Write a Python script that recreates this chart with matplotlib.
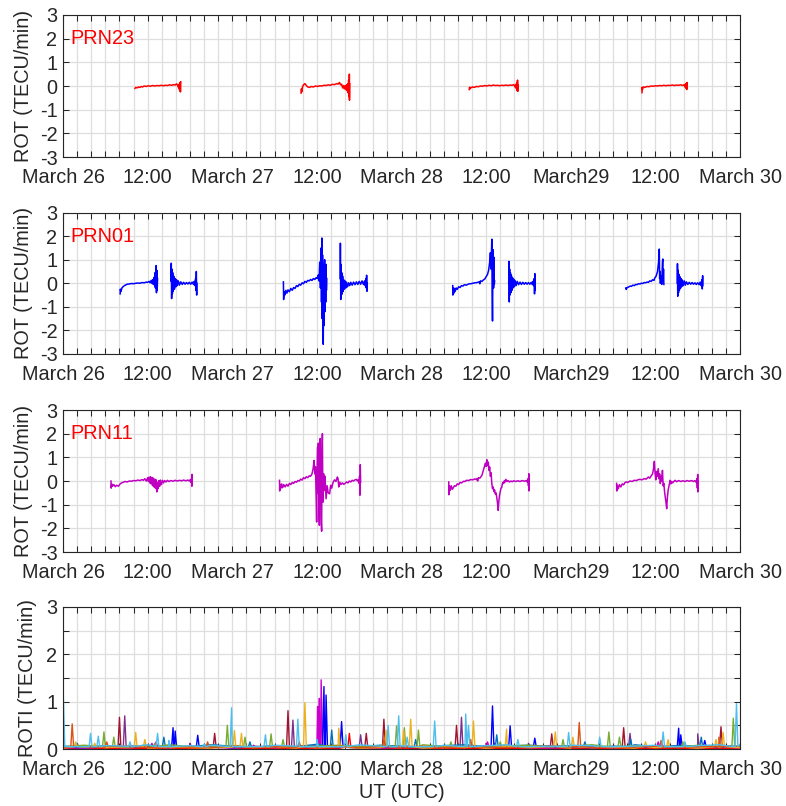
import numpy as np
import matplotlib
matplotlib.use("Agg")
import matplotlib.pyplot as plt
from matplotlib.ticker import MultipleLocator, NullLocator

plt.rcParams['font.family'] = ['Liberation Sans', 'DejaVu Sans']
plt.rcParams['axes.unicode_minus'] = False

# hours since March 26 00:00 UT
xtick_hours = [0, 12, 24, 36, 48, 60, 72, 84, 96]
xtick_labels = ['March 26', '12:00', 'March 27', '12:00', 'March 28',
                '12:00', 'March29', '12:00', 'March 30']

# ---- ROT, PRN23 (t [h], ROT [TECU/min]) ----
prn23_day1 = [(10.2, -0.10), (10.3, -0.06), (10.5, -0.08), (10.7, -0.04), (10.9, -0.06),
              (11.1, -0.02), (11.3, -0.04), (11.5, 0.00), (11.8, -0.02), (12.1, 0.01),
              (12.4, -0.01), (12.7, 0.02), (13.0, 0.00), (13.3, 0.02), (13.6, 0.01),
              (13.9, 0.03), (14.2, 0.01), (14.5, 0.03), (14.8, 0.02), (15.1, 0.05),
              (15.4, 0.03), (15.7, 0.06), (15.9, 0.04), (16.1, 0.09), (16.2, 0.05),
              (16.3, 0.02), (16.35, -0.05), (16.4, 0.04), (16.45, -0.12), (16.5, 0.08),
              (16.55, -0.20), (16.6, 0.15), (16.65, -0.25), (16.7, 0.18)]
prn23_day2 = [(33.75, -0.30), (33.8, -0.12), (33.85, -0.25), (33.95, -0.05), (34.1, 0.05),
              (34.3, 0.10), (34.5, 0.02), (34.7, -0.04), (34.95, -0.06), (35.2, -0.02),
              (35.5, -0.04), (35.8, 0.00), (36.1, -0.02), (36.4, 0.01), (36.7, 0.00),
              (37.0, 0.03), (37.3, 0.02), (37.6, 0.05), (37.9, 0.03), (38.2, 0.07),
              (38.5, 0.06), (38.8, 0.10), (39.0, 0.08), (39.2, 0.15), (39.35, 0.05),
              (39.5, 0.08), (39.65, -0.08), (39.8, 0.02), (39.9, -0.12), (40.0, 0.0),
              (40.1, -0.15), (40.2, 0.05), (40.3, -0.2), (40.4, 0.1), (40.45, -0.3),
              (40.5, 0.25), (40.55, -0.45), (40.6, 0.5), (40.62, -0.6), (40.65, 0.1)]
prn23_day3 = [(57.6, -0.15), (57.65, -0.05), (57.7, -0.12), (57.9, -0.06), (58.1, -0.04),
              (58.3, -0.06), (58.6, -0.02), (58.9, -0.03), (59.2, 0.0), (59.5, -0.01),
              (59.8, 0.02), (60.1, 0.0), (60.4, 0.03), (60.7, 0.01), (61.0, 0.04),
              (61.3, 0.02), (61.6, 0.03), (61.9, 0.01), (62.2, 0.03), (62.5, 0.02),
              (62.8, 0.04), (63.1, 0.02), (63.4, 0.04), (63.7, 0.03), (63.9, 0.06),
              (64.05, 0.0), (64.15, -0.06), (64.25, 0.08), (64.3, -0.12), (64.35, 0.15),
              (64.4, -0.2), (64.45, 0.25), (64.5, -0.22), (64.52, 0.05)]
prn23_day4 = [(82.1, -0.28), (82.12, -0.05), (82.15, -0.15), (82.3, -0.04), (82.5, -0.06),
              (82.8, -0.02), (83.1, -0.03), (83.4, 0.0), (83.7, -0.01), (84.0, 0.01),
              (84.3, 0.0), (84.6, 0.02), (84.9, 0.01), (85.2, 0.03), (85.5, 0.01),
              (85.8, 0.03), (86.1, 0.02), (86.4, 0.04), (86.7, 0.02), (87.0, 0.04),
              (87.3, 0.03), (87.6, 0.05), (87.9, 0.02), (88.1, 0.06), (88.2, -0.05),
              (88.3, 0.08), (88.35, -0.1), (88.4, 0.12), (88.45, -0.15), (88.5, 0.15),
              (88.52, -0.05)]

# ---- ROT, PRN01 ----
prn01_day1a = [(8.1, -0.45), (8.12, -0.25), (8.2, -0.35), (8.35, -0.2), (8.5, -0.15),
               (8.7, -0.1), (8.9, -0.07), (9.1, -0.04), (9.4, -0.03), (9.7, -0.01),
               (10.0, -0.02), (10.3, 0.0), (10.6, 0.01), (10.9, 0.0), (11.2, 0.03),
               (11.5, 0.02), (11.8, 0.05), (12.0, 0.04), (12.2, 0.08), (12.35, 0.02),
               (12.5, 0.12), (12.6, 0.0), (12.7, 0.15), (12.8, -0.05), (12.9, 0.25),
               (13.0, -0.1), (13.05, 0.45), (13.1, -0.2), (13.2, 0.75), (13.25, -0.4),
               (13.3, 0.55), (13.35, -0.3), (13.4, 0.2)]
prn01_day1b = [(15.3, 0.1), (15.35, 0.85), (15.4, -0.65), (15.45, 0.6), (15.5, -0.45),
               (15.55, 0.45), (15.6, -0.35), (15.7, 0.3), (15.8, -0.25), (15.9, 0.2),
               (16.0, -0.15), (16.1, 0.15), (16.2, -0.1), (16.35, 0.1), (16.5, -0.08),
               (16.7, 0.06), (16.9, -0.05), (17.1, 0.04), (17.3, -0.04), (17.5, 0.03),
               (17.7, -0.03), (17.9, 0.04), (18.1, -0.04), (18.3, 0.05), (18.5, -0.05),
               (18.6, 0.08), (18.7, -0.1), (18.8, 0.2), (18.85, -0.3), (18.9, 0.5),
               (18.95, -0.5), (18.97, 0.0)]
prn01_day2a = [(31.25, 0.06), (31.28, -0.69), (31.35, -0.35), (31.45, -0.5), (31.6, -0.3),
               (31.75, -0.42), (31.9, -0.28), (32.1, -0.36), (32.3, -0.22), (32.5, -0.3),
               (32.7, -0.18), (32.9, -0.22), (33.1, -0.1), (33.3, -0.14), (33.5, -0.04),
               (33.7, -0.08), (33.9, 0.02), (34.1, -0.02), (34.3, 0.08), (34.5, 0.04),
               (34.7, 0.12), (34.9, 0.1), (35.1, 0.16), (35.3, 0.12), (35.5, 0.2),
               (35.7, 0.16), (35.9, 0.24), (36.05, 0.2), (36.2, 0.35), (36.3, 0.1),
               (36.4, 0.9), (36.5, -0.2), (36.6, 1.5), (36.65, -0.8), (36.7, 1.92),
               (36.75, -1.5), (36.8, 1.2), (36.85, -2.2), (36.9, -2.59), (36.95, 0.4),
               (37.0, -1.8), (37.05, 0.6), (37.1, 1.0), (37.15, -1.2), (37.2, 0.5),
               (37.25, -0.8), (37.3, 0.8), (37.35, -0.3), (37.4, 0.2)]
prn01_day2b = [(39.3, 0.2), (39.33, 1.7), (39.38, -0.69), (39.42, 0.8), (39.47, -0.5),
               (39.52, 0.45), (39.58, -0.45), (39.65, 0.3), (39.72, -0.35), (39.8, 0.15),
               (39.9, -0.25), (40.0, 0.1), (40.1, -0.2), (40.2, 0.05), (40.35, -0.15),
               (40.5, 0.02), (40.65, -0.1), (40.8, 0.04), (41.0, -0.08), (41.2, 0.05),
               (41.4, -0.06), (41.6, 0.06), (41.8, -0.05), (42.0, 0.08), (42.2, -0.04),
               (42.4, 0.1), (42.6, -0.05), (42.75, 0.1), (42.85, -0.1), (42.95, 0.2),
               (43.0, -0.2), (43.05, 0.34), (43.1, -0.34), (43.12, 0.0)]
prn01_day3a = [(55.26, -0.1), (55.28, -0.5), (55.35, -0.2), (55.42, -0.42), (55.5, -0.22),
               (55.6, -0.35), (55.75, -0.2), (55.9, -0.26), (56.1, -0.15), (56.3, -0.18),
               (56.5, -0.1), (56.7, -0.12), (56.9, -0.06), (57.2, -0.08), (57.5, -0.03),
               (57.8, -0.02), (58.1, 0.0), (58.4, 0.02), (58.7, 0.03), (59.0, 0.06),
               (59.1, -0.02), (59.2, 0.1), (59.4, 0.08), (59.6, 0.14), (59.8, 0.18),
               (60.0, 0.28), (60.2, 0.38), (60.35, 0.55), (60.5, 0.9), (60.6, 1.3),
               (60.7, 0.6), (60.8, 1.87), (60.85, -0.3), (60.9, -1.6), (60.95, 0.5),
               (61.0, 1.42), (61.05, -0.2), (61.1, 1.1), (61.15, -0.05), (61.2, 0.1)]
prn01_day3b = [(63.2, 0.0), (63.23, 0.93), (63.28, -0.79), (63.33, 0.6), (63.38, -0.5),
               (63.44, 0.45), (63.5, -0.4), (63.57, 0.35), (63.65, -0.3), (63.72, 0.25),
               (63.8, -0.2), (63.9, 0.18), (64.0, -0.15), (64.1, 0.12), (64.25, -0.1),
               (64.4, 0.08), (64.6, -0.06), (64.8, 0.05), (65.0, -0.05), (65.2, 0.04),
               (65.4, -0.04), (65.6, 0.03), (65.8, -0.04), (66.0, 0.03), (66.2, -0.04),
               (66.4, 0.04), (66.55, -0.06), (66.65, 0.08), (66.75, -0.1), (66.82, 0.2),
               (66.86, -0.45), (66.9, 0.41), (66.92, -0.3)]
prn01_day4a = [(79.8, -0.2), (79.85, -0.26), (80.0, -0.18), (80.2, -0.16), (80.4, -0.12),
               (80.6, -0.13), (80.8, -0.08), (81.0, -0.1), (81.2, -0.05), (81.4, -0.06),
               (81.6, -0.02), (81.8, -0.03), (82.0, 0.0), (82.2, -0.01), (82.4, 0.03),
               (82.6, 0.02), (82.8, 0.05), (83.0, 0.04), (83.2, 0.1), (83.4, 0.08),
               (83.6, 0.15), (83.8, 0.12), (83.9, 0.22), (84.1, 0.3), (84.3, 0.5),
               (84.45, 0.9), (84.55, 1.45), (84.6, 0.2), (84.65, 0.5), (84.7, 0.0),
               (84.8, 0.3), (84.9, -0.05), (85.0, 0.9), (85.05, 1.03), (85.1, 0.1),
               (85.15, 0.6), (85.2, -0.05)]
prn01_day4b = [(87.1, 0.0), (87.13, 0.83), (87.17, -0.55), (87.22, 0.55), (87.28, -0.4),
               (87.34, 0.38), (87.4, -0.3), (87.47, 0.28), (87.55, -0.22), (87.63, 0.2),
               (87.72, -0.15), (87.82, 0.14), (87.95, -0.1), (88.1, 0.1), (88.25, -0.08),
               (88.4, 0.06), (88.6, -0.05), (88.8, 0.04), (89.0, -0.04), (89.2, 0.03),
               (89.4, -0.04), (89.6, 0.02), (89.8, -0.05), (90.0, 0.02), (90.2, -0.06),
               (90.35, 0.05), (90.5, -0.1), (90.6, 0.15), (90.65, -0.24), (90.7, 0.32),
               (90.72, -0.1)]

# ---- ROT, PRN11 ----
prn11_day1 = [(6.8, 0.0), (6.83, -0.3), (6.9, -0.12), (7.0, -0.22), (7.2, -0.15),
              (7.4, -0.24), (7.6, -0.18), (7.85, -0.22), (8.1, -0.12), (8.3, -0.08),
              (8.55, -0.05), (8.8, -0.02), (9.1, -0.04), (9.4, 0.0), (9.7, -0.01),
              (10.0, 0.02), (10.3, 0.01), (10.6, 0.04), (10.9, 0.02), (11.2, 0.06),
              (11.4, 0.03), (11.6, 0.1), (11.8, 0.0), (12.0, 0.14), (12.1, -0.02),
              (12.2, 0.16), (12.3, -0.08), (12.4, 0.18), (12.5, -0.12), (12.6, 0.15),
              (12.7, -0.2), (12.8, 0.12), (12.9, -0.25), (13.0, 0.08), (13.1, -0.3),
              (13.2, 0.05), (13.3, -0.46), (13.4, -0.05), (13.5, -0.32), (13.6, 0.02),
              (13.7, -0.22), (13.8, 0.04), (13.95, -0.15), (14.1, 0.03), (14.25, -0.08),
              (14.4, 0.02), (14.6, -0.04), (14.8, 0.03), (15.0, -0.02), (15.3, 0.02),
              (15.6, -0.01), (15.9, 0.03), (16.2, 0.0), (16.5, 0.03), (16.8, 0.01),
              (17.1, 0.04), (17.4, 0.01), (17.7, 0.04), (17.9, 0.0), (18.05, 0.06),
              (18.15, -0.06), (18.22, 0.1), (18.27, -0.22), (18.3, 0.28), (18.32, -0.1)]
prn11_day2 = [(30.7, 0.03), (30.72, -0.42), (30.8, -0.15), (30.9, -0.3), (31.0, -0.12),
              (31.15, -0.28), (31.3, -0.15), (31.5, -0.25), (31.7, -0.14), (31.9, -0.22),
              (32.1, -0.1), (32.3, -0.15), (32.5, -0.06), (32.7, -0.1), (32.9, -0.02),
              (33.1, -0.05), (33.3, 0.02), (33.5, 0.0), (33.7, 0.08), (33.9, 0.04),
              (34.1, 0.14), (34.3, 0.1), (34.5, 0.18), (34.7, 0.14), (34.9, 0.22),
              (35.1, 0.2), (35.3, 0.3), (35.45, 0.5), (35.6, 0.87), (35.7, 0.3),
              (35.8, 0.6), (35.9, -0.8), (35.96, -1.73), (36.02, 0.4), (36.1, 1.43),
              (36.15, -0.5), (36.2, 1.6), (36.28, -1.2), (36.35, -1.87), (36.4, 1.0),
              (36.45, 1.79), (36.5, -1.0), (36.55, 0.9), (36.6, -1.6), (36.67, -2.12),
              (36.72, 1.2), (36.78, 2.0), (36.82, 0.2), (36.88, -0.89), (36.95, 0.31),
              (37.05, -0.4), (37.15, 0.2), (37.3, -0.75), (37.45, -0.2), (37.6, -0.5),
              (37.8, -0.54), (37.95, -0.18), (38.1, -0.3), (38.3, -0.05), (38.5, 0.05),
              (38.7, -0.02), (38.9, 0.17), (39.0, 0.1), (39.1, -0.25), (39.25, -0.05),
              (39.4, -0.15), (39.6, -0.08), (39.8, -0.14), (40.0, -0.1), (40.2, -0.04),
              (40.4, -0.08), (40.6, 0.0), (40.8, -0.04), (41.0, 0.03), (41.2, 0.0),
              (41.4, 0.05), (41.6, 0.07), (41.75, 0.0), (41.9, 0.06), (42.0, -0.1),
              (42.05, 0.2), (42.1, -0.6), (42.15, 0.69), (42.2, -0.05)]
prn11_day3 = [(54.7, -0.04), (54.72, -0.58), (54.8, -0.2), (54.9, -0.4), (55.05, -0.2),
              (55.2, -0.35), (55.35, -0.28), (55.5, -0.2), (55.7, -0.22), (55.9, -0.12),
              (56.1, -0.15), (56.3, -0.06), (56.5, -0.08), (56.8, -0.01), (57.0, -0.02),
              (57.2, 0.03), (57.5, 0.02), (57.8, 0.06), (58.1, 0.05), (58.4, 0.09),
              (58.6, 0.06), (58.7, 0.1), (58.8, 0.0), (58.9, 0.14), (59.1, 0.12),
              (59.3, 0.2), (59.4, 0.24), (59.55, 0.4), (59.7, 0.55), (59.8, 0.66),
              (59.9, 0.75), (60.0, 0.62), (60.1, 0.9), (60.2, 0.65), (60.3, 0.8),
              (60.4, 0.45), (60.5, 0.59), (60.6, 0.2), (60.7, 0.35), (60.8, -0.1),
              (60.9, -0.32), (61.0, -0.25), (61.1, -0.45), (61.2, -0.38), (61.3, -0.55),
              (61.4, -0.5), (61.5, -0.68), (61.6, -0.9), (61.7, -1.24), (61.8, -0.85),
              (61.9, -0.6), (62.0, -0.45), (62.1, -0.3), (62.2, -0.28), (62.3, -0.12),
              (62.4, -0.05), (62.5, -0.1), (62.6, 0.02), (62.7, -0.04), (62.8, 0.07),
              (62.95, -0.02), (63.1, 0.02), (63.3, -0.04), (63.5, 0.0), (63.7, -0.03),
              (63.9, 0.01), (64.2, -0.02), (64.5, 0.01), (64.8, -0.02), (65.1, 0.02),
              (65.4, -0.01), (65.7, 0.02), (65.85, -0.05), (65.95, 0.1), (66.0, -0.2),
              (66.05, 0.31), (66.08, -0.42), (66.1, 0.0)]
prn11_day4 = [(78.5, -0.1), (78.52, -0.42), (78.6, -0.18), (78.75, -0.32), (78.9, -0.15),
              (79.1, -0.25), (79.3, -0.12), (79.5, -0.16), (79.7, -0.06), (79.9, -0.04),
              (80.1, -0.06), (80.4, 0.0), (80.7, -0.02), (81.0, 0.03), (81.3, 0.02),
              (81.6, 0.06), (81.8, 0.07), (82.1, 0.05), (82.4, 0.1), (82.7, 0.08),
              (83.0, 0.17), (83.2, 0.12), (83.4, 0.22), (83.6, 0.3), (83.75, 0.55),
              (83.85, 0.83), (83.95, 0.35), (84.05, 0.05), (84.15, 0.4), (84.25, 0.2),
              (84.4, 0.52), (84.5, 0.1), (84.6, 0.3), (84.7, -0.11), (84.8, 0.2),
              (84.9, 0.0), (85.0, 0.45), (85.1, -0.2), (85.2, -0.1), (85.3, -0.45),
              (85.4, -0.68), (85.5, -0.9), (85.6, -1.17), (85.7, -0.7), (85.8, -0.4),
              (85.9, -0.25), (86.0, -0.1), (86.1, 0.03), (86.2, -0.12), (86.3, -0.02),
              (86.45, -0.08), (86.6, -0.02), (86.8, 0.03), (87.0, -0.03), (87.3, 0.02),
              (87.6, -0.02), (87.9, 0.01), (88.2, -0.02), (88.5, 0.02), (88.8, -0.01),
              (89.1, 0.02), (89.4, -0.02), (89.6, 0.02), (89.8, -0.06), (89.9, 0.1),
              (89.95, -0.3), (90.0, 0.28), (90.02, -0.46), (90.05, 0.0)]

# ---- ROTI, all satellites: quiet level sampled every 3 h + spikes (t, ROTI) ----
# drawing order: dark red / pure red / magenta / blue first, rest of palette on top
roti_colors = ['#A2142F', '#FF0000', '#CC00CC', '#0000FF', '#7E2F8E', '#0072BD',
               '#77AC30', '#EDB120', '#D95319', '#4DBEEE']
roti_base = [
    [0.03, 0.04, 0.02, 0.05, 0.03, 0.04, 0.02, 0.03, 0.05, 0.03, 0.02, 0.04, 0.03, 0.05, 0.02, 0.04, 0.03,
     0.02, 0.04, 0.03, 0.05, 0.02, 0.03, 0.04, 0.02, 0.03, 0.05, 0.03, 0.02, 0.04, 0.03, 0.05, 0.03],
    [0.01, 0.02, 0.01, 0.02, 0.01, 0.02, 0.01, 0.02, 0.02, 0.01, 0.02, 0.01, 0.02, 0.01, 0.02, 0.01, 0.02,
     0.01, 0.02, 0.01, 0.02, 0.01, 0.02, 0.01, 0.02, 0.01, 0.02, 0.01, 0.02, 0.01, 0.02, 0.01, 0.02],
    [0.03, 0.02, 0.04, 0.03, 0.05, 0.06, 0.04, 0.03, 0.02, 0.04, 0.03, 0.05, 0.07, 0.04, 0.03, 0.02, 0.04,
     0.03, 0.05, 0.06, 0.04, 0.06, 0.03, 0.02, 0.04, 0.03, 0.05, 0.04, 0.06, 0.05, 0.03, 0.04, 0.03],
    [0.04, 0.03, 0.05, 0.04, 0.06, 0.03, 0.04, 0.05, 0.03, 0.04, 0.06, 0.04, 0.05, 0.03, 0.04, 0.05, 0.04,
     0.03, 0.05, 0.04, 0.06, 0.04, 0.03, 0.05, 0.04, 0.03, 0.05, 0.04, 0.06, 0.03, 0.04, 0.05, 0.04],
    [0.04, 0.06, 0.03, 0.05, 0.07, 0.04, 0.06, 0.05, 0.03, 0.06, 0.04, 0.05, 0.07, 0.04, 0.03, 0.05, 0.06,
     0.04, 0.05, 0.03, 0.06, 0.04, 0.05, 0.07, 0.04, 0.06, 0.03, 0.05, 0.04, 0.06, 0.05, 0.03, 0.05],
    [0.06, 0.04, 0.07, 0.05, 0.08, 0.06, 0.05, 0.09, 0.06, 0.04, 0.07, 0.05, 0.10, 0.06, 0.05, 0.08, 0.06,
     0.04, 0.07, 0.09, 0.05, 0.06, 0.08, 0.05, 0.07, 0.04, 0.06, 0.09, 0.05, 0.07, 0.06, 0.08, 0.05],
    [0.05, 0.08, 0.06, 0.04, 0.07, 0.09, 0.05, 0.06, 0.08, 0.05, 0.07, 0.04, 0.06, 0.08, 0.05, 0.07, 0.06,
     0.09, 0.05, 0.06, 0.04, 0.07, 0.08, 0.05, 0.06, 0.09, 0.05, 0.07, 0.06, 0.04, 0.08, 0.06, 0.07],
    [0.02, 0.04, 0.03, 0.05, 0.02, 0.04, 0.03, 0.02, 0.04, 0.03, 0.05, 0.02, 0.03, 0.04, 0.02, 0.03, 0.05,
     0.02, 0.04, 0.03, 0.02, 0.04, 0.03, 0.05, 0.02, 0.03, 0.04, 0.02, 0.03, 0.05, 0.02, 0.04, 0.03],
    [0.03, 0.05, 0.04, 0.06, 0.03, 0.05, 0.04, 0.03, 0.06, 0.04, 0.05, 0.03, 0.04, 0.06, 0.03, 0.05, 0.04,
     0.06, 0.03, 0.05, 0.04, 0.03, 0.05, 0.06, 0.04, 0.03, 0.05, 0.04, 0.06, 0.03, 0.05, 0.04, 0.06],
    [0.08, 0.05, 0.07, 0.06, 0.09, 0.05, 0.07, 0.08, 0.06, 0.05, 0.08, 0.06, 0.07, 0.05, 0.09, 0.06, 0.07,
     0.05, 0.08, 0.06, 0.07, 0.09, 0.05, 0.06, 0.08, 0.07, 0.05, 0.06, 0.08, 0.05, 0.07, 0.09, 0.10],
]
roti_spikes = [
    [(8.0, 0.67), (21.5, 0.33), (31.9, 0.81), (43.0, 0.33), (45.5, 0.63), (55.8, 0.5),
     (60.0, 0.12), (69.3, 0.32), (79.5, 0.45), (93.3, 0.47)],
    [(22.0, 0.08), (40.6, 0.33)],
    [(12.6, 0.12), (13.2, 0.15), (27.0, 0.08), (36.1, 0.9), (36.35, 1.07), (36.6, 1.46),
     (60.2, 0.15), (61.2, 0.12), (84.4, 0.15), (84.9, 0.12)],
    [(15.6, 0.45), (15.9, 0.38), (19.1, 0.29), (37.0, 1.32), (37.3, 1.14), (39.5, 0.58),
     (60.9, 0.91), (63.4, 0.49), (66.9, 0.23), (87.3, 0.44), (87.6, 0.3), (91.0, 0.18)],
    [(8.75, 0.70), (18.0, 0.12), (32.6, 0.61), (42.2, 0.3), (56.5, 0.67), (66.0, 0.12),
     (80.4, 0.33), (90.0, 0.32)],
    [(2.0, 0.12), (14.3, 0.25), (26.5, 0.15), (38.1, 0.4), (50.0, 0.2), (61.5, 0.3),
     (74.0, 0.15), (80.5, 0.2), (90.5, 0.25)],
    [(5.8, 0.36), (7.2, 0.25), (13.0, 0.12), (23.3, 0.5), (25.8, 0.25), (29.5, 0.32),
     (31.2, 0.2), (47.3, 0.49), (48.4, 0.45), (50.4, 0.4), (55.0, 0.15), (62.0, 0.15),
     (70.9, 0.2), (77.4, 0.36), (78.9, 0.25), (87.9, 0.15), (95.05, 0.65)],
    [(1.8, 0.15), (4.5, 0.12), (10.3, 0.35), (11.6, 0.2), (24.3, 0.39), (25.3, 0.33),
     (34.3, 0.98), (39.1, 0.44), (45.8, 0.4), (48.3, 0.4), (49.3, 0.63), (58.2, 0.59),
     (62.9, 0.42), (69.8, 0.36), (72.3, 0.25), (82.6, 0.15), (85.8, 0.2), (92.6, 0.2),
     (93.6, 0.35)],
    [(1.3, 0.53), (6.2, 0.15), (20.5, 0.15), (33.5, 0.15), (45.5, 0.2), (57.8, 0.2),
     (73.2, 0.56), (84.8, 0.18), (93.0, 0.25)],
    [(0.05, 1.07), (3.9, 0.33), (5.0, 0.27), (9.5, 0.15), (13.4, 0.33), (15.0, 0.18),
     (20.0, 0.1), (23.9, 0.87), (28.7, 0.3), (33.3, 0.63), (36.0, 0.2), (40.1, 0.3),
     (46.1, 0.5), (47.6, 0.7), (48.8, 0.25), (52.7, 0.59), (57.1, 0.74), (57.5, 0.5),
     (64.5, 0.2), (71.7, 0.35), (76.1, 0.25), (85.1, 0.36), (88.2, 0.15), (95.5, 0.96)],
]

rot_panels = [
    ('PRN23', 'red', [prn23_day1, prn23_day2, prn23_day3, prn23_day4]),
    ('PRN01', 'blue', [prn01_day1a, prn01_day1b, prn01_day2a, prn01_day2b,
                       prn01_day3a, prn01_day3b, prn01_day4a, prn01_day4b]),
    ('PRN11', '#C000C0', [prn11_day1, prn11_day2, prn11_day3, prn11_day4]),
]

FS = 14.3
DARK = '#262626'

fig = plt.figure(figsize=(7.86, 8.06), dpi=100)
boxes = [(0.0802, 0.8052, 0.8613, 0.1762),
         (0.0802, 0.5608, 0.8613, 0.1755),
         (0.0802, 0.3151, 0.8613, 0.1762),
         (0.0802, 0.0707, 0.8613, 0.1762)]
axes = [fig.add_axes(b) for b in boxes]


def style_axis(ax):
    ax.set_xlim(0, 96)
    ax.set_xticks(xtick_hours)
    ax.set_xticklabels(xtick_labels)
    ax.xaxis.set_minor_locator(MultipleLocator(2))
    ax.tick_params(which='both', direction='in', top=True, right=True,
                   length=4.6, width=0.75, colors=DARK, labelsize=FS, pad=4)
    ax.tick_params(axis='x', which='both', pad=8)
    ax.grid(True, which='both', color='#dedede', linewidth=0.9)
    ax.set_axisbelow(True)
    for s in ax.spines.values():
        s.set_color(DARK)
        s.set_linewidth(0.8)


for ax, (name, col, segs) in zip(axes[:3], rot_panels):
    for seg in segs:
        t, v = np.array(seg).T
        ax.plot(t, v, color=col, linewidth=1.1)
    style_axis(ax)
    ax.set_ylim(-3, 3)
    ax.set_yticks(range(-3, 4))
    ax.yaxis.set_minor_locator(NullLocator())
    ax.set_ylabel('ROT (TECU/min)', fontsize=FS, color=DARK, labelpad=5)
    ax.text(1.1, 2.0, name, color='red', fontsize=FS, va='center', ha='left')

ax = axes[3]
half = 0.2
for col, base, spikes in zip(roti_colors, roti_base, roti_spikes):
    bt = np.linspace(0, 96, len(base))
    pts = list(zip(bt, base))
    for t, h in spikes:
        pts += [(t - half, 0.05), (t, h), (t + half, 0.05)]
    pts.sort()
    t, v = np.array(pts).T
    ax.plot(t, v, color=col, linewidth=1.0)
style_axis(ax)
ax.set_ylim(0, 3)
ax.set_yticks([0, 1, 2, 3])
ax.yaxis.set_minor_locator(MultipleLocator(0.5))
ax.set_ylabel('ROTI (TECU/min)', fontsize=FS, color=DARK, labelpad=7)
ax.set_xlabel('UT (UTC)', fontsize=FS, color=DARK, labelpad=3)

fig.savefig('out.png', dpi=100)
